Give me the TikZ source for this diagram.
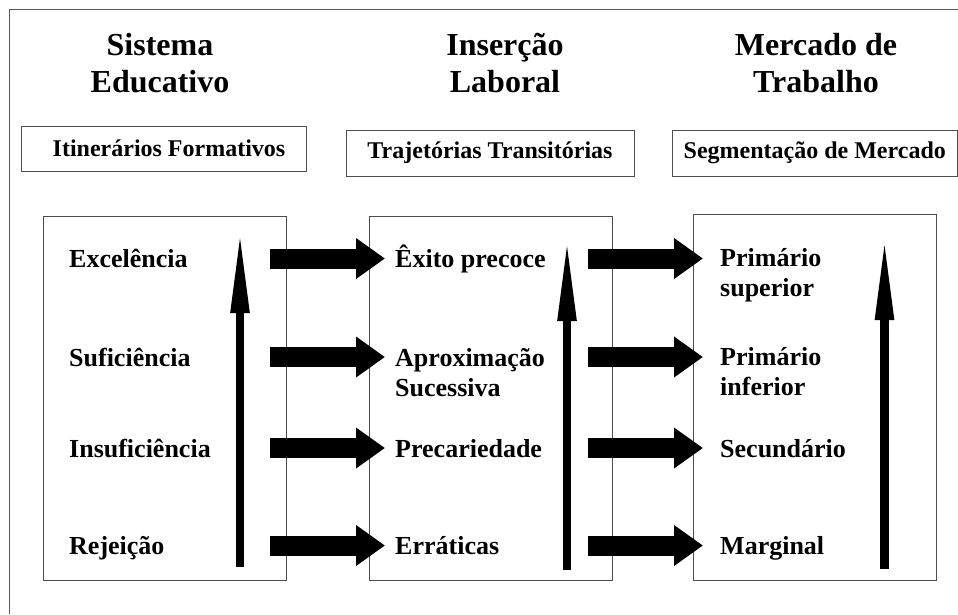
\documentclass[tikz,border=0pt]{standalone}
\usepackage{fontspec}
\setmainfont{Liberation Serif}
\usetikzlibrary{arrows.meta}

\begin{document}
\begin{tikzpicture}[x=1pt,y=-1pt,
		titulo/.style={font=\bfseries\fontsize{32}{37}\selectfont,align=center,anchor=north,inner sep=0pt},
		rotulo/.style={draw=black!70,line width=0.8pt,font=\bfseries\fontsize{24}{28}\selectfont,inner sep=0pt},
		coluna/.style={draw=black!70,line width=0.8pt,inner sep=0pt},
		nivel/.style={font=\bfseries\fontsize{26}{30}\selectfont,align=left,anchor=base west,inner sep=0pt},
		passa/.style={line width=20pt,-{Triangle[length=29pt,width=39pt]}},
		sobe/.style={line width=8.5pt,-{Triangle[length=85pt,width=17pt]}}]
		\useasboundingbox (0,0) rectangle (958,614);
		\draw[black!65,line width=1pt] (958,9) -- (9,9) -- (9,614);
		
		\node[titulo] (sis) at (160,33) {Sistema\\Educativo};
		\node[titulo] (ins) at (505,33) {Inserção\\Laboral};
		\node[titulo] (mer) at (816,33) {Mercado de\\Trabalho};
		
		\node[rotulo,minimum width=285pt,minimum height=45pt] (itin) at (163.5,148.5) {\hspace*{11pt}Itinerários Formativos};
		\node[rotulo,minimum width=288pt,minimum height=46pt] (traj) at (490,153) {Trajetórias Transitórias};
		\node[rotulo,minimum width=285.5pt,minimum height=46pt] (segm) at (814.75,153) {Segmentação de Mercado};
		
		\node[coluna,minimum width=243pt,minimum height=364pt] (edu) at (164.5,398) {};
		\node[coluna,minimum width=243pt,minimum height=364pt] (lab) at (490.5,398) {};
		\node[coluna,minimum width=243pt,minimum height=366pt] (trab) at (814.5,397) {};
		
		\node[nivel] (exc) at (69,267.5) {Excelência};
		\node[nivel] (suf) at (69,366) {Suficiência};
		\node[nivel] (insf) at (69,457) {Insuficiência};
		\node[nivel] (rej) at (69,554.5) {Rejeição};
		
		% base = ultima linha
		\node[nivel] (exi) at (395,267.5) {Êxito precoce};
		\node[nivel] (apr) at (395,396) {Aproximação\\Sucessiva};
		\node[nivel] (pre) at (395,457) {Precariedade};
		\node[nivel] (err) at (395,554.5) {Erráticas};
		
		\node[nivel] (psup) at (720,296) {Primário\\superior};
		\node[nivel] (pinf) at (720,395) {Primário\\inferior};
		\node[nivel] (sec) at (720,457) {Secundário};
		\node[nivel] (mar) at (720,554) {Marginal};
		
		% setas verticais
		\coordinate (edub) at (240,567);
		\coordinate (edut) at (240,228);
		\coordinate (labb) at (567,570);
		\coordinate (labt) at (567,236);
		\coordinate (trabb) at (884.5,569);
		\coordinate (trabt) at (884.5,235);
		\draw[sobe] (edub) -- (edut);
		\draw[sobe] (labb) -- (labt);
		\draw[sobe] (trabb) -- (trabt);
		
		% setas horizontais
		\coordinate (a1) at (270,258.5);
		\coordinate (b1) at (385,258.5);
		\coordinate (a2) at (270,357);
		\coordinate (b2) at (385,357);
		\coordinate (a3) at (270,448);
		\coordinate (b3) at (385,448);
		\coordinate (a4) at (270,545.5);
		\coordinate (b4) at (385,545.5);
		\draw[passa] (a1) -- (b1);
		\draw[passa] (a2) -- (b2);
		\draw[passa] (a3) -- (b3);
		\draw[passa] (a4) -- (b4);
		
		\coordinate (c1) at (588,258.5);
		\coordinate (d1) at (703,258.5);
		\coordinate (c2) at (588,357);
		\coordinate (d2) at (703,357);
		\coordinate (c3) at (588,448);
		\coordinate (d3) at (703,448);
		\coordinate (c4) at (588,545.5);
		\coordinate (d4) at (703,545.5);
		\draw[passa] (c1) -- (d1);
		\draw[passa] (c2) -- (d2);
		\draw[passa] (c3) -- (d3);
		\draw[passa] (c4) -- (d4);
	
	\end{tikzpicture}
\end{document}
